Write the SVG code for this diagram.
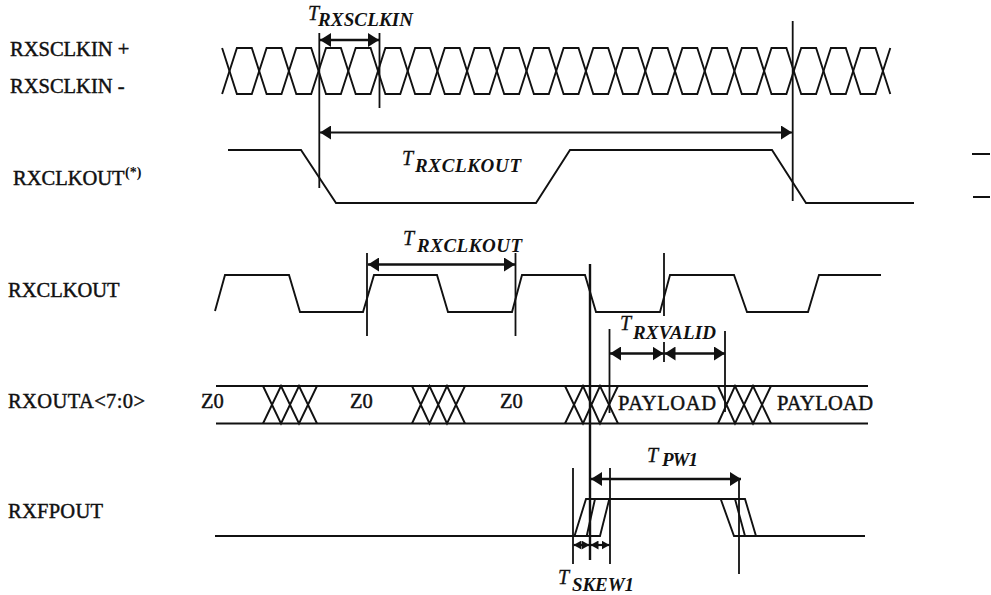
<svg xmlns="http://www.w3.org/2000/svg" width="991" height="595" viewBox="0 0 991 595">
<style>
.w{fill:none;stroke:#111;stroke-width:1.9;stroke-linejoin:miter}
.v{fill:none;stroke:#111;stroke-width:1.8}
.vt{fill:none;stroke:#111;stroke-width:2.4}
.a{fill:none;stroke:#111;stroke-width:2.4;marker-start:url(#h);marker-end:url(#h)}
.as{fill:none;stroke:#111;stroke-width:2.2;marker-start:url(#hs);marker-end:url(#hs)}
text{font-family:"Liberation Serif","Times New Roman",serif;fill:#111}
.l{font-size:20.5px;stroke:#111;stroke-width:.45}
.t{font-size:20px;font-style:italic;stroke:#111;stroke-width:.3}
.s{font-size:19px;font-style:italic;font-weight:bold}
</style>
<defs>
<marker id="h" viewBox="0 0 11 14" refX="11" refY="7" markerWidth="11" markerHeight="14" markerUnits="userSpaceOnUse" orient="auto-start-reverse"><path d="M0 0L11 7L0 14Z" fill="#111"/></marker>
<marker id="hs" viewBox="0 0 8 9" refX="8" refY="4.500" markerWidth="8" markerHeight="9" markerUnits="userSpaceOnUse" orient="auto-start-reverse"><path d="M0 0L8 4.500L0 9Z" fill="#111"/></marker>
</defs>
<g id="rxsclkin">
<text class="l" x="10" y="56">RXSCLKIN +</text>
<text class="l" x="10" y="93">RXSCLKIN -</text>
<path class="w" d="M222.1 48
l14.8 46h14.9l14.8-46h14.9
l14.8 46h14.9l14.8-46h14.9
l14.8 46h14.9l14.8-46h14.9
l14.8 46h14.9l14.8-46h14.9
l14.8 46h14.9l14.8-46h14.9
l14.8 46h14.9l14.8-46h14.9
l14.8 46h14.9l14.8-46h14.9
l14.8 46h14.9l14.8-46h14.9
l14.8 46h14.9l14.8-46h14.9
l14.8 46h14.9l14.8-46h14.9
l14.8 46h14.9l14.8-46h14.9
l14.8 46"/>
<path class="w" d="M222.1 94
l14.8-46h14.9l14.8 46h14.9
l14.8-46h14.9l14.8 46h14.9
l14.8-46h14.9l14.8 46h14.9
l14.8-46h14.9l14.8 46h14.9
l14.8-46h14.9l14.8 46h14.9
l14.8-46h14.9l14.8 46h14.9
l14.8-46h14.9l14.8 46h14.9
l14.8-46h14.9l14.8 46h14.9
l14.8-46h14.9l14.8 46h14.9
l14.8-46h14.9l14.8 46h14.9
l14.8-46h14.9l14.8 46h14.9
l14.8-46"/>
</g>
<g id="rxclkout-star">
<text class="l" x="13" y="185">RXCLKOUT</text>
<text x="125" y="177" font-size="14" font-weight="bold">(*)</text>
<path class="w" d="M228 150H301L336 203H536L570 150H772L806 203H914"/>
<path class="w" d="M972 154H990M973 197H990"/>
</g>
<g id="rxclkout">
<text class="l" x="8" y="297">RXCLKOUT</text>
<path class="w" d="M215 311L225 275H289L300 312H363L374 275H437L448 312H512L522 275H585L596 312H660L670 275H734L747 312H808L819 275H881"/>
</g>
<g id="rxouta">
<text class="l" x="8" y="408" textLength="137">RXOUTA&lt;7:0&gt;</text>
<path class="w" d="M216 386H868M216 423.5H868"/>
<path class="w" d="M263 386L281 423.5L299 386L317 423.5M263 423.5L281 386L299 423.5L317 386"/>
<path class="w" d="M412 386L429.500 423.5L447 386L465 423.5M412 423.5L429.500 386L447 423.5L465 386"/>
<path class="w" d="M565 386L583 423.5L600 386L618 423.5M565 423.5L583 386L600 423.5L618 386"/>
<path class="w" d="M718 386L735 423.5L753 386L771 423.5M718 423.5L735 386L753 423.5L771 386"/>
<text class="l" x="201" y="408">Z0</text>
<text class="l" x="350" y="408">Z0</text>
<text class="l" x="500" y="408">Z0</text>
<text class="l" x="618" y="410" textLength="98">PAYLOAD</text>
<text class="l" x="777" y="410" textLength="96">PAYLOAD</text>
</g>
<g id="rxfpout">
<text class="l" x="8" y="518" textLength="95">RXFPOUT</text>
<path class="w" d="M215 536H600L609.300 499M574.500 536L586 499H745L756 536M586.700 536L595 499M720.700 499L734 536H865M735 499L745 536"/>
</g>
<g id="connectors">
<path class="v" d="M319.300 33V188M379.500 33V108M792.700 21V201"/>
<path class="v" d="M367 253V336M515.500 253V336M664 253V316"/>
<path class="vt" d="M590 264V560"/>
<path class="v" d="M609.500 329V413M725 331V412M664 342V362"/>
<path class="v" d="M573 468V564M610 468V564M739 480V574"/>
<path class="a" d="M320 40H379"/>
<path class="a" d="M320 132.500H792" style="stroke-width:1.8"/>
<path class="a" d="M368 264.500H515"/>
<path class="a" d="M610 353.500H663.500"/>
<path class="a" d="M664.500 353.500H725"/>
<path class="a" d="M591 479H741"/>
<path class="as" d="M573.500 545H589.500"/>
<path class="as" d="M590.500 545H609.500"/>
</g>
<g id="timing-labels">
<text x="308" y="20" class="t">T</text><text x="318" y="26" class="s" textLength="95">RXSCLKIN</text>
<text x="402" y="165" class="t">T</text><text x="415" y="172" class="s" textLength="106">RXCLKOUT</text>
<text x="403" y="245" class="t">T</text><text x="417" y="252" class="s" textLength="105">RXCLKOUT</text>
<text x="620" y="330" class="t">T</text><text x="633" y="339" class="s" textLength="83">RXVALID</text>
<text x="647" y="462" class="t">T</text><text x="662" y="466" class="s" textLength="36">PW1</text>
<text x="558" y="584" class="t">T</text><text x="572" y="591" class="s" textLength="62">SKEW1</text>
</g>
</svg>
